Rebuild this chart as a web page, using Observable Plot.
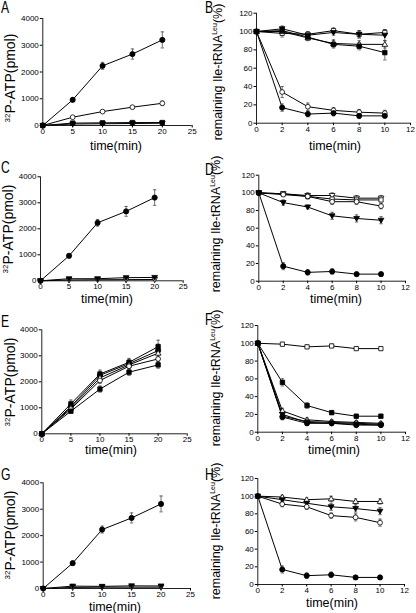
<!DOCTYPE html>
<html><head><meta charset="utf-8">
<script src="https://cdn.jsdelivr.net/npm/d3@7"></script>
<script src="https://cdn.jsdelivr.net/npm/@observablehq/plot@0.6"></script>
<style>
body{margin:0;background:#fff}
#fig{position:relative;width:416px;height:613px;overflow:hidden;background:#fff}
#fig svg{position:absolute}
#fig .letter{position:absolute;font:16px/16px 'Liberation Sans', Arial, Helvetica, sans-serif;color:#000;z-index:2;white-space:nowrap;transform:scaleX(0.76);transform-origin:0 0}
</style>
</head><body><div id="fig"></div>
<script>
// ---- shared axes ----
const timeATP = [0, 5, 10, 15, 20];
const timeRemain = [0, 2, 4, 6, 8, 10];
const atpTicksX = [0, 5, 10, 15, 20, 25];
const atpTicksY = [0, 1000, 2000, 3000, 4000];
const remTicksX = [0, 2, 4, 6, 8, 10, 12];
const remTicksY = [0, 20, 40, 60, 80, 100, 120];
const panelLetters = ["A", "B", "C", "D", "E", "F", "G", "H"];
const xTitle = "time(min)";
const atpTitleSup = "32", atpTitleMain = "P-ATP(pmol)";
const remTitleMain = "remaining Ile-tRNA", remTitleSup = "Leu", remTitleEnd = "(%)";

// ---- panel A ----
const A_fc = [0, 960, 2230, 2670, 3200];   const A_fc_err = [0, 70, 130, 190, 300];
const A_oc = [0, 310, 520, 685, 830];      const A_oc_err = [0, 30, 40, 60, 80];
const A_fs = [0, 90, 100, 110, 110];       const A_fs_err = [0, 20, 20, 30, 30];
const A_ft = [0, 55, 65, 75, 85];          const A_ft_err = [0, 15, 15, 20, 20];
// ---- panel B ----
const B_os = [100, 98, 97, 101, 97, 99];   const B_os_err = [0, 4, 3, 3, 4, 3];
const B_ftd = [100, 103, 96, 99, 97, 96];  const B_ftd_err = [0, 3, 3, 3, 4, 6];
const B_otu = [100, 100, 93, 87, 86, 86];  const B_otu_err = [0, 3, 3, 4, 4, 4];
const B_fs = [100, 101, 94, 86, 84, 77];   const B_fs_err = [0, 3, 3, 4, 4, 8];
const B_oc = [100, 34, 18, 14, 12, 11];    const B_oc_err = [0, 6, 4, 3, 3, 3];
const B_fc = [100, 17, 10, 11, 8, 8];      const B_fc_err = [0, 4, 3, 3, 3, 2];
// ---- panel C ----
const C_fc = [0, 960, 2230, 2670, 3200];   const C_fc_err = [0, 70, 130, 190, 300];
const C_ftd = [0, 80, 80, 120, 130];       const C_ftd_err = [0, 20, 20, 30, 30];
const C_otd = [0, 30, 40, 45, 50];         const C_otd_err = [0, 10, 10, 10, 10];
// ---- panel D ----
const D_otd = [100, 99, 97, 97, 94, 94];   const D_otd_err = [0, 2, 3, 3, 3, 3];
const D_os = [100, 99, 96, 93, 92, 92];    const D_os_err = [0, 2, 2, 2, 2, 2];
const D_oc = [100, 98, 96, 90, 90, 85];    const D_oc_err = [0, 2, 3, 3, 3, 3];
const D_ftd = [100, 89, 84, 74, 71, 69];   const D_ftd_err = [0, 3, 2, 4, 4, 4];
const D_fc = [100, 17, 10, 11, 8, 8];      const D_fc_err = [0, 4, 3, 3, 2, 2];
// ---- panel E ----
const E_fs1 = [0, 1150, 2300, 2750, 3350]; const E_fs1_err = [0, 150, 150, 150, 250];
const E_fc = [0, 1050, 2250, 2700, 3200];  const E_fc_err = [0, 100, 120, 150, 250];
const E_otu = [0, 1000, 2150, 2650, 3100]; const E_otu_err = [0, 100, 120, 150, 200];
const E_oc = [0, 950, 2050, 2600, 2880];   const E_oc_err = [0, 80, 120, 150, 150];
const E_fs2 = [0, 870, 1720, 2370, 2650];  const E_fs2_err = [0, 80, 120, 130, 130];
// ---- panel F ----
const F_os = [100, 99, 96, 97, 94, 94];    const F_os_err = [0, 2, 2, 2, 2, 2];
const F_fs = [100, 56, 30, 22, 18, 18];    const F_fs_err = [0, 4, 3, 2, 2, 2];
const F_otu = [100, 24, 14, 12, 11, 10];   const F_otu_err = [0, 3, 2, 2, 2, 2];
const F_ftd = [100, 20, 11, 10, 9, 8];     const F_ftd_err = [0, 3, 2, 2, 2, 2];
const F_fc = [100, 17, 10, 10, 8, 8];      const F_fc_err = [0, 3, 2, 2, 2, 2];
const F_oc = [100, 18, 12, 11, 10, 9];     const F_oc_err = [0, 2, 2, 2, 2, 2];
// ---- panel G ----
const G_fc = [0, 960, 2230, 2670, 3200];   const G_fc_err = [0, 70, 130, 190, 300];
const G_ftd = [0, 90, 80, 100, 95];        const G_ftd_err = [0, 20, 20, 20, 20];
const G_otd = [0, 40, 50, 50, 50];         const G_otd_err = [0, 10, 10, 10, 10];
// ---- panel H ----
const H_otu = [100, 99, 96, 97, 94, 94];   const H_otu_err = [0, 2, 2, 3, 3, 3];
const H_ftd = [100, 96, 92, 88, 86, 83];   const H_ftd_err = [0, 3, 3, 4, 4, 4];
const H_oc = [100, 91, 88, 78, 76, 70];    const H_oc_err = [0, 3, 3, 3, 4, 4];
const H_fc = [100, 17, 10, 11, 8, 8];      const H_fc_err = [0, 4, 3, 3, 2, 2];

// ---- symbols ----
const triDown = {draw(ctx, size) { const r = Math.sqrt(size / Math.PI) * 1.15; ctx.moveTo(-r, -r * 0.7); ctx.lineTo(r, -r * 0.7); ctx.lineTo(0, r * 1.0); ctx.closePath(); }};
const triUp = {draw(ctx, size) { const r = Math.sqrt(size / Math.PI) * 1.15; ctx.moveTo(-r, r * 0.7); ctx.lineTo(r, r * 0.7); ctx.lineTo(0, -r * 1.0); ctx.closePath(); }};
const capSym = {draw(ctx, size) { const r = Math.sqrt(size / Math.PI); ctx.moveTo(-r, 0); ctx.lineTo(r, 0); }};
const markerStyles = {
  filledCircle: {symbol: "circle", r: 2.6, fill: "black"},
  openCircle: {symbol: "circle", r: 2.4, fill: "white"},
  filledSquare: {symbol: "square", r: 2.5, fill: "black"},
  openSquare: {symbol: "square", r: 2.4, fill: "white"},
  filledTriDown: {symbol: triDown, r: 2.5, fill: "black"},
  openTriDown: {symbol: triDown, r: 2.5, fill: "white"},
  openTriUp: {symbol: triUp, r: 2.5, fill: "white"}
};

const S = (values, errors, marker) => ({values, errors, marker});
const panels = [
  {kind: "atp", left: 0, top: 0, w: 205, h: 150, mL: 42.3, mR: 13.3, mT: 18, mB: 25, letter: [0.5, 13.5], xt: [116, 145], yt: [10, 78],
   series: [S(A_fc, A_fc_err, "filledCircle"), S(A_oc, A_oc_err, "openCircle"), S(A_ft, A_ft_err, "filledTriDown"), S(A_fs, A_fs_err, "filledSquare")]},
  {kind: "rem", left: 205, top: 0, w: 211, h: 150, mL: 51, mR: 6, mT: 12.7, mB: 27.3, letter: [204.5, 13.5], xt: [335, 145], yt: [218, 72],
   series: [S(B_os, B_os_err, "openSquare"), S(B_ftd, B_ftd_err, "filledTriDown"), S(B_otu, B_otu_err, "openTriUp"), S(B_fs, B_fs_err, "filledSquare"), S(B_oc, B_oc_err, "openCircle"), S(B_fc, B_fc_err, "filledCircle")]},
  {kind: "atp", left: 0, top: 150, w: 205, h: 150, mL: 40, mR: 22.3, mT: 26.3, mB: 19.7, letter: [0.5, 173], xt: [107, 298], yt: [8, 229],
   series: [S(C_fc, C_fc_err, "filledCircle"), S(C_otd, C_otd_err, "openTriDown"), S(C_ftd, C_ftd_err, "filledTriDown")]},
  {kind: "rem", left: 205, top: 150, w: 211, h: 150, mL: 53.3, mR: 11, mT: 24.7, mB: 19.3, letter: [204.5, 175], xt: [336, 298], yt: [216, 224],
   series: [S(D_otd, D_otd_err, "openTriDown"), S(D_os, D_os_err, "openSquare"), S(D_oc, D_oc_err, "openCircle"), S(D_ftd, D_ftd_err, "filledTriDown"), S(D_fc, D_fc_err, "filledCircle")]},
  {kind: "atp", left: 0, top: 300, w: 205, h: 153, mL: 41.3, mR: 18.3, mT: 29.3, mB: 19.7, letter: [0.5, 327], xt: [111, 449.5], yt: [10, 382],
   series: [S(E_fs1, E_fs1_err, "filledSquare"), S(E_fc, E_fc_err, "filledCircle"), S(E_otu, E_otu_err, "openTriUp"), S(E_oc, E_oc_err, "openCircle"), S(E_fs2, E_fs2_err, "filledSquare")]},
  {kind: "rem", left: 205, top: 300, w: 211, h: 153, mL: 52.3, mR: 11, mT: 25, mB: 21.3, letter: [204.5, 325], xt: [334, 449], yt: [216, 378],
   series: [S(F_os, F_os_err, "openSquare"), S(F_fs, F_fs_err, "filledSquare"), S(F_otu, F_otu_err, "openTriUp"), S(F_oc, F_oc_err, "openCircle"), S(F_ftd, F_ftd_err, "filledTriDown"), S(F_fc, F_fc_err, "filledCircle")]},
  {kind: "atp", left: 0, top: 453, w: 205, h: 160, mL: 42.7, mR: 15, mT: 29.3, mB: 25, letter: [0.5, 480], xt: [115, 606], yt: [10, 535],
   series: [S(G_fc, G_fc_err, "filledCircle"), S(G_otd, G_otd_err, "openTriDown"), S(G_ftd, G_ftd_err, "filledTriDown")]},
  {kind: "rem", left: 205, top: 453, w: 211, h: 160, mL: 52.3, mR: 12, mT: 25, mB: 29, letter: [204.5, 480], xt: [332, 602], yt: [216, 531],
   series: [S(H_otu, H_otu_err, "openTriUp"), S(H_ftd, H_ftd_err, "filledTriDown"), S(H_oc, H_oc_err, "openCircle"), S(H_fc, H_fc_err, "filledCircle")]}
];

const FONT = "'Liberation Sans', Arial, Helvetica, sans-serif";
const fig = document.getElementById("fig");

panels.forEach((p, pi) => {
  const atp = p.kind === "atp";
  const xs = atp ? timeATP : timeRemain;
  const xTicks = atp ? atpTicksX : remTicksX;
  const yTicks = atp ? atpTicksY : remTicksY;
  const rows = [];
  p.series.forEach((s, i) => s.values.forEach((v, j) => rows.push({s: i, x: xs[j], y: v, e: s.errors ? s.errors[j] : 0})));
  const errRows = rows.filter(d => d.e > 0);
  const capRows = errRows.flatMap(d => [{x: d.x, y: d.y - d.e}, {x: d.x, y: d.y + d.e}]);
  const marks = [
    Plot.ruleY([yTicks[0]], {stroke: "#222", strokeWidth: 1}),
    Plot.ruleX([xTicks[0]], {stroke: "#222", strokeWidth: 1}),
    Plot.axisX({ticks: xTicks, tickSize: 2.5, tickPadding: 0.5, tickFormat: d => String(d), label: null, fontSize: 8}),
    Plot.axisY({ticks: yTicks, tickSize: 2.5, tickPadding: 1.5, tickFormat: d => String(d), label: null, fontSize: 8}),
    Plot.line(rows, {x: "x", y: "y", z: "s", stroke: "black", strokeWidth: 1}),
    Plot.ruleX(errRows, {x: "x", y1: d => d.y - d.e, y2: d => d.y + d.e, stroke: "#333", strokeWidth: 0.7}),
    Plot.dot(capRows, {x: "x", y: "y", symbol: capSym, r: 1.7, stroke: "#333", strokeWidth: 0.7}),
    ...p.series.map((s, i) => {
      const m = markerStyles[s.marker];
      return Plot.dot(rows.filter(d => d.s === i), {x: "x", y: "y", symbol: m.symbol, r: m.r, fill: m.fill, stroke: "black", strokeWidth: 0.8});
    })
  ];
  const svg = Plot.plot({
    width: p.w, height: p.h,
    marginLeft: p.mL, marginRight: p.mR, marginTop: p.mT, marginBottom: p.mB,
    x: {domain: [xTicks[0], xTicks[xTicks.length - 1]]},
    y: {domain: [yTicks[0], yTicks[yTicks.length - 1]]},
    style: {fontFamily: FONT, fontSize: "8px", background: "transparent", overflow: "visible", color: "black"},
    marks
  });
  svg.style.left = p.left + "px";
  svg.style.top = p.top + "px";
  const sel = d3.select(svg);
  // x title
  sel.append("text").attr("x", p.xt[0] - p.left).attr("y", p.xt[1] - p.top + 4.5)
    .attr("text-anchor", "middle").attr("font-size", 12.5).attr("font-family", FONT).attr("fill", "black").text(xTitle);
  // y title
  const fs = atp ? 14 : 12.5;
  const t = sel.append("text")
    .attr("transform", `translate(${p.yt[0] - p.left + 0.33 * fs},${p.yt[1] - p.top}) rotate(-90)`)
    .attr("text-anchor", "middle").attr("font-family", FONT).attr("fill", "black").attr("font-size", fs);
  if (atp) {
    t.append("tspan").attr("font-size", 8).attr("dy", -5).text(atpTitleSup);
    t.append("tspan").attr("dy", 5).text(atpTitleMain);
  } else {
    t.append("tspan").text(remTitleMain);
    t.append("tspan").attr("font-size", 7).attr("dy", -5).text(remTitleSup);
    t.append("tspan").attr("dy", 5).text(remTitleEnd);
  }
  fig.appendChild(svg);
  // panel letter (HTML text above the SVGs)
  const lab = document.createElement("div");
  lab.className = "letter";
  lab.textContent = panelLetters[pi];
  lab.style.left = p.letter[0] + "px";
  lab.style.top = Math.max(0, p.letter[1] - 13.5) + "px";
  fig.appendChild(lab);
});
</script>
</body></html>
